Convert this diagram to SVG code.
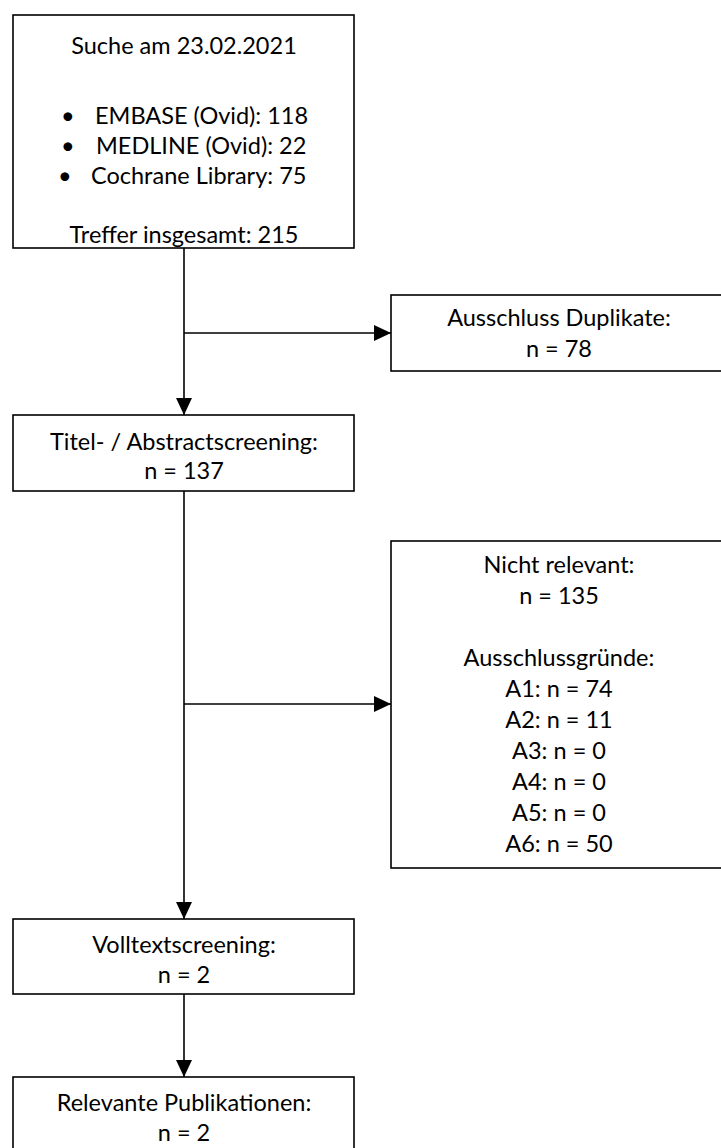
<svg xmlns="http://www.w3.org/2000/svg" width="721" height="1148" viewBox="0 0 721 1148">
<style>
.box{fill:#fff;stroke:#000;stroke-width:1.6}
.t{font-family:Lato,"Liberation Sans",sans-serif;font-size:23.5px;fill:#000;text-anchor:middle}
.l{text-anchor:start}
.c{fill:none;stroke:#000;stroke-width:1.6}
</style>
<defs>
<marker id="ah" markerWidth="18" markerHeight="16" refX="17" refY="8" orient="auto" markerUnits="userSpaceOnUse">
<path d="M0,0 L17,8 L0,16 Z" fill="#000"/>
</marker>
</defs>
<rect x="0" y="0" width="721" height="1148" fill="#fff"/>
<g id="connectors">
<line class="c" x1="184" y1="248" x2="184" y2="415" marker-end="url(#ah)"/>
<line class="c" x1="184" y1="333" x2="391" y2="333" marker-end="url(#ah)"/>
<line class="c" x1="184" y1="491" x2="184" y2="919" marker-end="url(#ah)"/>
<line class="c" x1="184" y1="704" x2="391" y2="704" marker-end="url(#ah)"/>
<line class="c" x1="184" y1="994" x2="184" y2="1077" marker-end="url(#ah)"/>
</g>
<g id="suche">
<rect class="box" x="13" y="15" width="341" height="233"/>
<text class="t" x="184" y="54">Suche am 23.02.2021</text>
<text class="t l" x="61" y="124">•</text>
<text class="t l" x="95" y="124">EMBASE (Ovid): 118</text>
<text class="t l" x="61" y="154">•</text>
<text class="t l" x="96" y="154">MEDLINE (Ovid): 22</text>
<text class="t l" x="58" y="184">•</text>
<text class="t l" x="91" y="184">Cochrane Library: 75</text>
<text class="t" x="184" y="243">Treffer insgesamt: 215</text>
</g>
<g id="duplikate">
<rect class="box" x="391" y="295" width="340" height="76"/>
<text class="t" x="559" y="326">Ausschluss Duplikate:</text>
<text class="t" x="559" y="357">n = 78</text>
</g>
<g id="titel">
<rect class="box" x="13" y="415" width="341" height="76"/>
<text class="t" x="184" y="450">Titel- / Abstractscreening:</text>
<text class="t" x="184" y="479">n = 137</text>
</g>
<g id="nichtrelevant">
<rect class="box" x="391" y="541" width="340" height="327"/>
<text class="t" x="559" y="573">Nicht relevant:</text>
<text class="t" x="559" y="604">n = 135</text>
<text class="t" x="559" y="666">Ausschlussgründe:</text>
<text class="t" x="559" y="697">A1: n = 74</text>
<text class="t" x="559" y="728">A2: n = 11</text>
<text class="t" x="559" y="759">A3: n = 0</text>
<text class="t" x="559" y="790">A4: n = 0</text>
<text class="t" x="559" y="821">A5: n = 0</text>
<text class="t" x="559" y="852">A6: n = 50</text>
</g>
<g id="volltext">
<rect class="box" x="13" y="919" width="341" height="75"/>
<text class="t" x="184" y="953">Volltextscreening:</text>
<text class="t" x="184" y="983">n = 2</text>
</g>
<g id="relevant">
<rect class="box" x="13" y="1077" width="341" height="90"/>
<text class="t" x="184" y="1111">Relevante Publikationen:</text>
<text class="t" x="184" y="1141">n = 2</text>
</g>
</svg>
